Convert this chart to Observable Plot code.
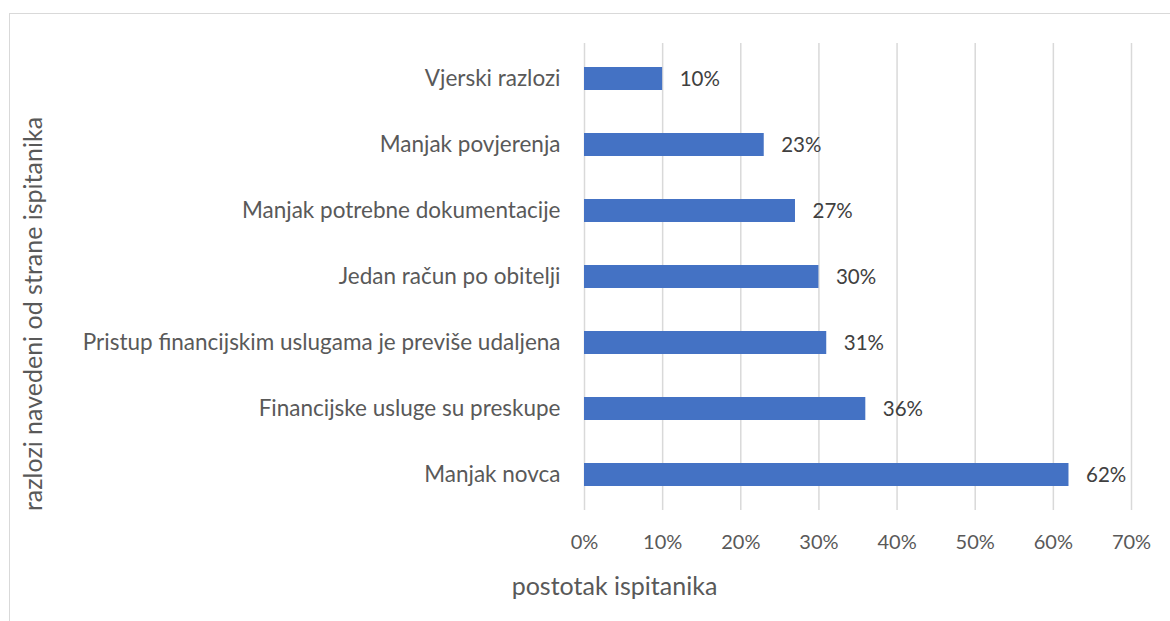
<!DOCTYPE html>
<html>
<head>
<meta charset="utf-8">
<script src="https://cdn.jsdelivr.net/npm/d3@7"></script>
<script src="https://cdn.jsdelivr.net/npm/@observablehq/plot@0.6"></script>
<style>
  html, body { margin: 0; padding: 0; background: #fff; overflow: hidden; }
  #wrap { position: relative; width: 1170px; height: 621px; overflow: hidden; }
  #border { position: absolute; left: 9px; top: 13px; width: 1300px; height: 800px; border: 1.5px solid #d9d9d9; box-sizing: border-box; }
  #chart { position: absolute; left: 0; top: 0; }
</style>
</head>
<body>
<div id="wrap"><div id="border"></div><div id="chart"></div></div>
<script>
const categories = [
  "Vjerski razlozi",
  "Manjak povjerenja",
  "Manjak potrebne dokumentacije",
  "Jedan račun po obitelji",
  "Pristup financijskim uslugama je previše udaljena",
  "Financijske usluge su preskupe",
  "Manjak novca"
];
const values = [0.10, 0.23, 0.27, 0.30, 0.31, 0.36, 0.62];
const xTicks = [0, 0.1, 0.2, 0.3, 0.4, 0.5, 0.6, 0.7];
const xTitle = "postotak ispitanika";
const yTitle = "razlozi navedeni od strane ispitanika";

const data = categories.map((c, i) => ({category: c, value: values[i]}));
const pct = d3.format(".0%");
const font = "Lato, 'Open Sans', sans-serif";

const chart = Plot.plot({
  width: 1170,
  height: 621,
  marginLeft: 584,
  marginRight: 39,
  marginTop: 43,
  marginBottom: 111,
  style: {fontFamily: font, fontSize: "20px", background: "transparent"},
  x: {domain: [0, 0.7], ticks: xTicks, tickFormat: pct},
  y: {domain: categories, paddingInner: 0.648, paddingOuter: 0.324},
  marks: [
    Plot.gridX(xTicks, {stroke: "#d9d9d9", strokeOpacity: 1, strokeWidth: 1.5}),
    Plot.barX(data, {x: "value", y: "category", fill: "#4472C4"}),
    Plot.text(data, {x: "value", y: "category", text: d => pct(d.value), textAnchor: "start", dx: 17, fill: "#404040", fontSize: 20.5}),
    Plot.axisX({ticks: xTicks, tickFormat: pct, tickSize: 0, tickPadding: 24, fill: "#595959", fontSize: 20, label: null}),
    Plot.axisY({tickSize: 0, tickPadding: 24, fill: "#595959", fontSize: 22.5, label: null}),
    Plot.text([xTitle], {frameAnchor: "bottom-left", dx: 30, dy: 84, text: d => d, textAnchor: "middle", fill: "#595959", fontSize: 25}),
    Plot.text([yTitle], {frameAnchor: "left", dx: -551, dy: 37, rotate: -90, text: d => d, textAnchor: "middle", fill: "#595959", fontSize: 25})
  ]
});
document.getElementById("chart").appendChild(chart);
</script>
</body>
</html>
